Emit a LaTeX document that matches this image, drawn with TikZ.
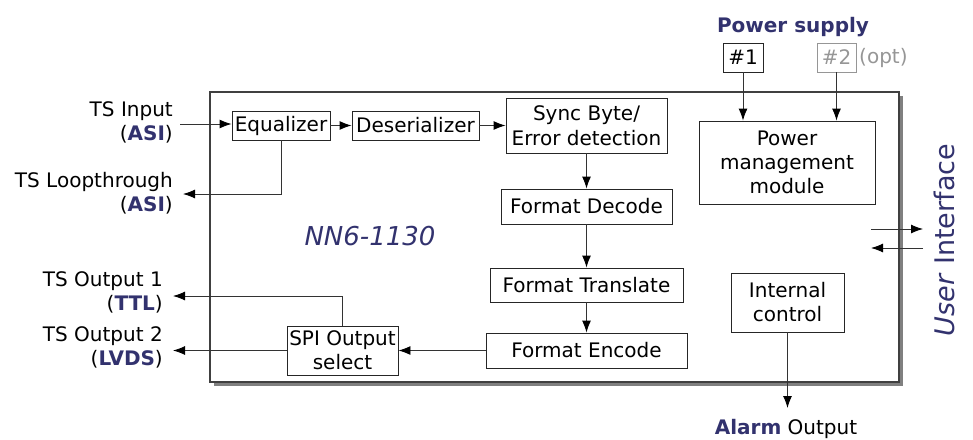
\documentclass[tikz,border=0pt]{standalone}
\usepackage{fontspec}
\setmainfont{DejaVu Sans}
\usetikzlibrary{arrows.meta,shadows}
\definecolor{navy}{RGB}{50,50,110}
\definecolor{optgray}{RGB}{150,150,150}
\newcommand{\hl}[1]{\textcolor{navy}{\textbf{#1}}}
\begin{document}
\begin{tikzpicture}[x=1pt,y=-1pt,
  every node/.style={font=\fontsize{20}{24}\selectfont, inner sep=0pt},
  blk/.style={draw=black!85, line width=0.9pt, align=center, fill=white},
  chassis/.style={draw=black!75, line width=1.2pt, fill=white,
     drop shadow={shadow xshift=4pt, shadow yshift=-4pt, fill=black!50, opacity=1}},
  conn/.style={line width=0.9pt, draw=black!80, -{Latex[length=12pt,width=9pt,color=black]}},
  lbl/.style={anchor=east, align=right}
]
\useasboundingbox (0,0) rectangle (973,439);
% chassis
\node[chassis, minimum width=689pt, minimum height=290pt] (chassis) at (554.5,237) {};
% blocks
\node[blk, minimum width=98pt, minimum height=29pt] (eq) at (281,125.5) {Equalizer};
\node[blk, minimum width=127pt, minimum height=29pt] (des) at (415.5,125.5) {Deserializer};
\node[blk, minimum width=161pt, minimum height=55pt, font=\fontsize{20}{25}\selectfont] (sync) at (586.5,125.5) {Sync Byte/\\Error detection};
\node[blk, minimum width=171pt, minimum height=35pt] (dec) at (586.5,206.5) {Format Decode};
\node[blk, minimum width=193pt, minimum height=34pt] (trans) at (586.5,285) {Format Translate};
\node[blk, minimum width=201pt, minimum height=35pt] (enc) at (586.5,350.5) {Format Encode};
\node[blk, minimum width=111pt, minimum height=49pt] (spi) at (342.5,350.5) {SPI Output\\select};
\node[blk, minimum width=176pt, minimum height=83pt] (pm) at (787,162.5) {Power\\management\\module};
\node[blk, minimum width=113pt, minimum height=59pt] (ic) at (787.5,302.5) {Internal\\control};
\node[blk, minimum width=40pt, minimum height=29pt] (ps1) at (743,57.5) {\#1};
\node[blk, draw=optgray, text=optgray, minimum width=39pt, minimum height=29pt] (ps2) at (836.5,57.5) {\#2};
\node[anchor=west, text=optgray] (opt) at (859,57.5) {(opt)};
\node[font=\fontsize{20}{24}\selectfont\bfseries, text=navy] (pstitle) at (793,27) {Power supply};
% titles
\node[font=\fontsize{26}{30}\selectfont\itshape, text=navy] (model) at (370,236) {NN6-1130};
\node[font=\fontsize{27}{30}\selectfont, text=navy, rotate=90] (ui) at (944,240) {\textit{User} Interface};
% left labels
\node[lbl] (lin) at (173,122) {TS Input\\(\hl{ASI})};
\node[lbl] (lloop) at (173,193) {TS Loopthrough\\(\hl{ASI})};
\node[lbl] (lout1) at (163,292) {TS Output 1\\(\hl{TTL})};
\node[lbl] (lout2) at (163,347.5) {TS Output 2\\(\hl{LVDS})};
\node[anchor=base] (alarm) at (786,434) {\hl{Alarm} Output};
% free ends
\coordinate (tsin) at (180,124);
\coordinate (loopend) at (183,194);
\coordinate (ttlend) at (173,296);
\coordinate (lvdsend) at (173,350.5);
\coordinate (alarmtip) at (787.5,408);
\coordinate (uiin) at (923,229);
\coordinate (uiout) at (923,248);
\coordinate (uiinstart) at (871,229);
\coordinate (uioutend) at (871,248);
% connectors
\draw[conn] (tsin) -- (tsin -| eq.west);
\draw[conn] (eq) -- (des);
\draw[conn] (des.east) -- (des.east -| sync.west);
\draw[conn] (sync) -- (dec);
\draw[conn] (dec) -- (trans);
\draw[conn] (trans) -- (enc);
\draw[conn] (enc.west) -- (enc.west -| spi.east);
\draw[conn] (spi.west) -- (lvdsend);
\draw[conn] (spi.north) -- (spi.north |- ttlend) -- (ttlend);
\draw[conn] (eq.south) |- (loopend);
\draw[conn] (ps1.south) -- (ps1.south |- pm.north);
\draw[conn] (ps2.south) -- (ps2.south |- pm.north);
\draw[conn] (ic.south) -- (alarmtip);
\draw[conn] (uiinstart) -- (uiin);
\draw[conn] (uiout) -- (uioutend);
\end{tikzpicture}
\end{document}
